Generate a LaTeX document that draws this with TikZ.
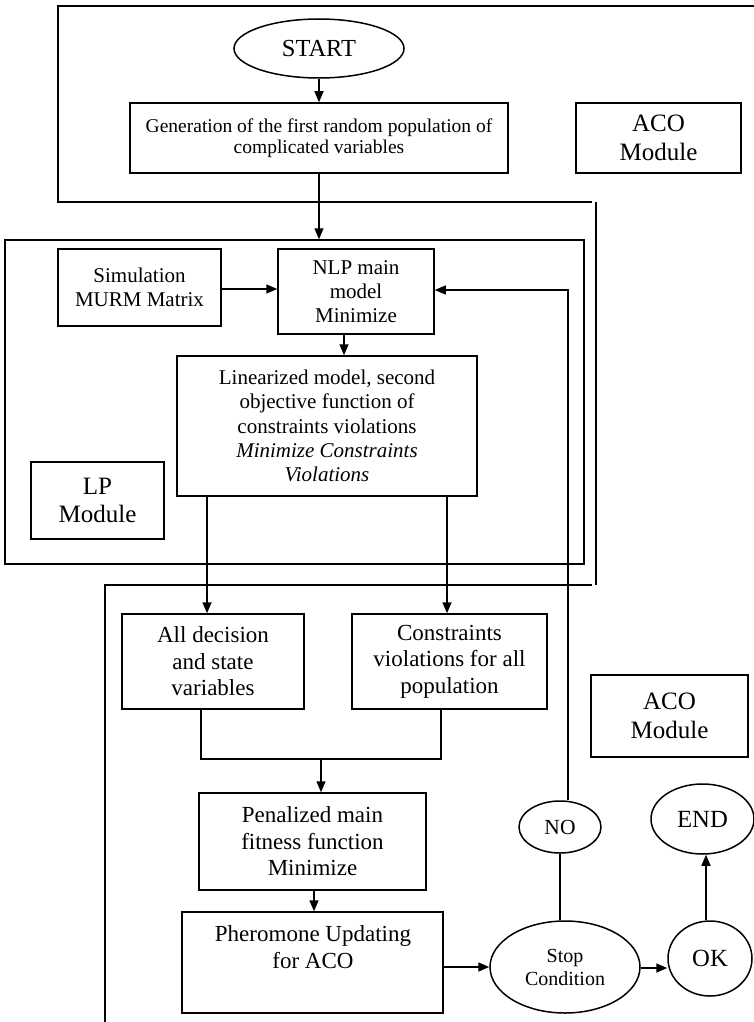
\documentclass[tikz,border=0pt]{standalone}
\usepackage{fontspec}
\setmainfont{Liberation Serif}
\usetikzlibrary{arrows.meta,shapes.geometric,calc}
\begin{document}
\begin{tikzpicture}[x=1pt,y=-1pt,
  line width=1.5pt,
  box/.style={draw, rectangle, inner sep=0pt, align=center},
  oval/.style={draw, ellipse, inner sep=0pt, align=center},
  txt/.style={inner sep=0pt, align=center},
  arr/.style={-{Triangle[length=11pt,width=9pt]}},
  fgen/.style={font=\fontsize{19.5}{20.5}\selectfont},
  fbig/.style={font=\fontsize{25}{28.5}\selectfont},
  fmid/.style={font=\fontsize{21}{24.2}\selectfont},
  flow/.style={font=\fontsize{23}{26.5}\selectfont},
  fstop/.style={font=\fontsize{20}{23}\selectfont},
]
\useasboundingbox (0,0) rectangle (754,1022);

% frames
\draw (754,6) -- (58,6) -- (58,202) -- (592,202);
\draw (596,202) -- (596,585);
\node[box, minimum width=579pt, minimum height=324pt] (lpframe) at (294.5,402) {};
\draw (592,585) -- (105,585) -- (105,1022);

% nodes
\node[oval, font=\fontsize{24.5}{28}\selectfont, minimum width=170pt, minimum height=59pt] (start) at (319,48.5) {START};
\node[box, fgen, minimum width=378pt, minimum height=70pt] (gen) at (319,138) {Generation of the first random population of\\complicated variables};
\node[box, fbig, minimum width=165pt, minimum height=70pt] (aco1) at (658.5,138) {ACO\\Module};
\node[box, fmid, minimum width=163pt, minimum height=77pt] (sim) at (139.5,287.5) {Simulation\\MURM Matrix};
\node[box, fmid, minimum width=156pt, minimum height=85pt] (nlp) at (356,291.5) {NLP main\\model\\Minimize};
\node[box, fmid, minimum width=300pt, minimum height=140pt] (lin) at (327,426) {Linearized model, second\\objective function of\\constraints violations\\\textit{Minimize Constraints}\\\textit{Violations}};
\node[box, fbig, minimum width=133pt, minimum height=77pt] (lpm) at (97.5,500.5) {LP\\Module};
\node[box, flow, minimum width=182pt, minimum height=95pt] (all) at (213,661.5) {All decision\\and state\\variables};
\node[box, flow, minimum width=195pt, minimum height=95pt] (cons) at (449.5,661.5) {Constraints\\violations for all\\population};
\node[box, fbig, minimum width=157pt, minimum height=82pt] (aco2) at (669.5,716) {ACO\\Module};
\node[box, flow, minimum width=227pt, minimum height=97pt] (pen) at (312.5,841.5) {Penalized main\\fitness function\\Minimize};
\node[box, minimum width=261pt, minimum height=101pt] (pher) at (312.5,962.5) {};
\node[txt, flow] (phertext) at (313,947) {Pheromone Updating\\for ACO};
\node[oval, fstop, minimum width=150pt, minimum height=92pt] (stop) at (565,967) {Stop\\Condition};
\node[oval, font=\fontsize{24.7}{28}\selectfont, minimum width=84pt, minimum height=75pt] (ok) at (710,958.5) {OK};
\node[oval, font=\fontsize{24.7}{28}\selectfont, minimum width=103pt, minimum height=70pt] (end) at (702.5,819) {END};
\node[oval, font=\fontsize{21.5}{24}\selectfont, minimum width=82pt, minimum height=52pt] (no) at (560,827) {NO};

% helper coordinates
\coordinate (fb) at (568,290);
\coordinate (ys) at (0,289);
\coordinate (xa) at (344,0);
\coordinate (xb) at (207,0);
\coordinate (xc) at (447,0);
\coordinate (m1) at (201,759);
\coordinate (m2) at (441,759);
\coordinate (mj) at (321,759);
\coordinate (xd) at (314,0);
\coordinate (xe) at (706,0);
\coordinate (ysc) at (0,968);

% connectors
\draw[arr] (start.south) -- (start.south |- gen.north);
\draw[arr] (gen.south) -- (gen.south |- lpframe.north);
\draw[arr] (sim.east |- ys) -- (nlp.west |- ys);
\draw[arr] (fb |- no.north) -- (fb) -- (fb -| nlp.east);
\draw[arr] (nlp.south -| xa) -- (lin.north -| xa);
\draw[arr] (lin.south -| xb) -- (all.north -| xb);
\draw[arr] (lin.south -| xc) -- (cons.north -| xc);
\draw (all.south -| m1) -- (m1) -- (m2) -- (cons.south -| m2);
\draw[arr] (mj) -- (mj |- pen.north);
\draw[arr] (pen.south -| xd) -- (pher.north -| xd);
\draw[arr] (pher.east |- stop.west) -- (stop.west);
\draw[arr] (stop.east |- ysc) -- (ok.west |- ysc);
\draw[arr] (ok.north -| xe) -- (end.south -| xe);
\draw (no.south) -- (no.south |- stop.north);
\end{tikzpicture}
\end{document}
